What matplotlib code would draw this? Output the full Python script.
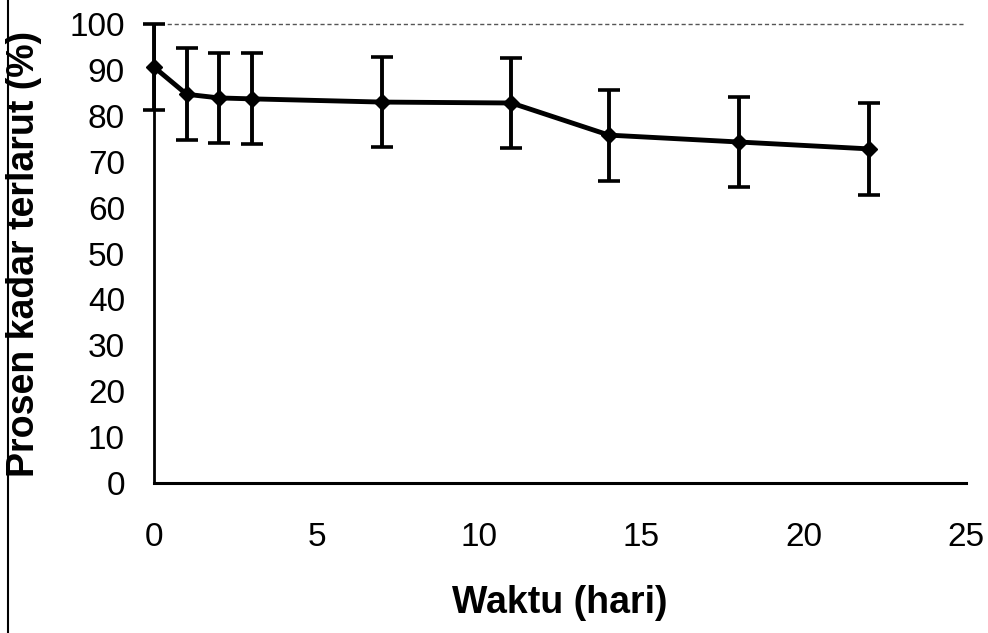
import matplotlib.pyplot as plt
from matplotlib.lines import Line2D

plt.rcParams['font.family'] = ['Liberation Sans', 'DejaVu Sans']

# data
waktu = [0, 1, 2, 3, 7, 11, 14, 18, 22]
kadar = [90.6, 84.7, 83.9, 83.7, 83.0, 82.8, 75.8, 74.3, 72.8]
sd = [9.4, 10.0, 9.8, 9.9, 9.8, 9.8, 9.9, 9.8, 10.0]

x_ticks = [0, 5, 10, 15, 20, 25]
y_ticks = [0, 10, 20, 30, 40, 50, 60, 70, 80, 90, 100]

fig = plt.figure(figsize=(9.88, 6.33), dpi=100)
ax = fig.add_axes([0.156, 0.237, 0.822, 0.725])

ax.errorbar(waktu, kadar, yerr=sd, color="black", linewidth=3.5,
            marker="D", markersize=8, elinewidth=2.8, capsize=8,
            capthick=2.6, clip_on=False, zorder=3)

ax.set_xlim(0, 25)
ax.set_ylim(0, 100)
ax.set_xticks(x_ticks)
ax.set_yticks(y_ticks)
ax.tick_params(axis="both", length=0, labelsize=24)
ax.tick_params(axis="y", pad=21)
ax.tick_params(axis="x", pad=28)

ax.spines["left"].set_linewidth(2)
ax.spines["bottom"].set_linewidth(2.2)
ax.spines["top"].set_linestyle((0, (2, 3)))
ax.spines["top"].set_color("#555555")
ax.spines["top"].set_linewidth(1)
ax.spines["right"].set_visible(False)

ax.set_xlabel("Waktu (hari)", fontsize=27, fontweight="bold", labelpad=23)
ax.set_ylabel("Prosen kadar terlarut (%)", fontsize=27, fontweight="bold")
ax.yaxis.set_label_coords(-0.138, 0.5)

# scan edge line at the left
fig.add_artist(Line2D([0.008, 0.008], [0.0, 1.0], color="black", linewidth=1.5,
                      transform=fig.transFigure))

fig.savefig("out.png", dpi=100)
